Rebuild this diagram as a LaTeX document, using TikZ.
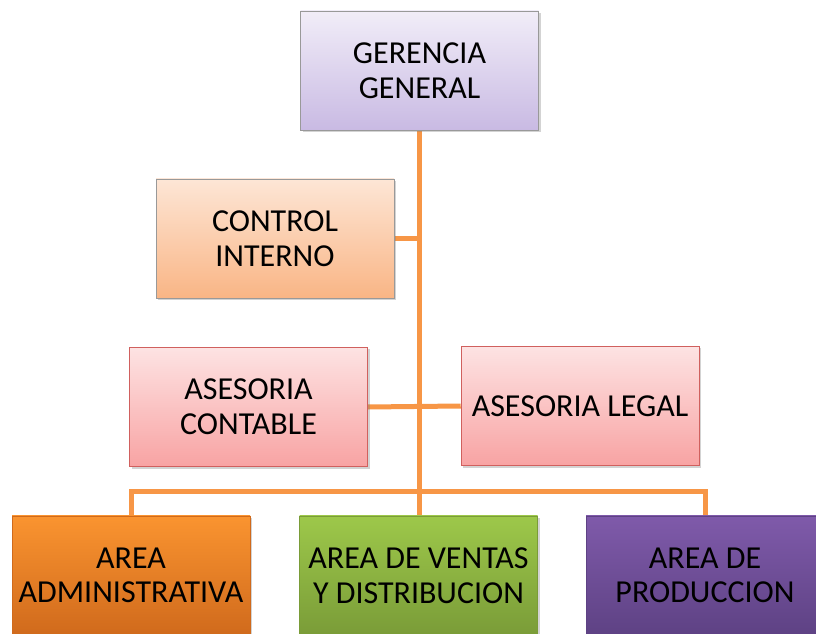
\documentclass[tikz,border=0pt]{standalone}
\usepackage{fontspec}
\setmainfont{Carlito}
\usetikzlibrary{shadows,backgrounds}
\definecolor{lineorange}{HTML}{F79646}
\definecolor{lavtop}{HTML}{F1EDF8}
\definecolor{lavbot}{HTML}{C9BAE3}
\definecolor{peachtop}{HTML}{FDE6D6}
\definecolor{peachbot}{HTML}{F9B585}
\definecolor{pinktop}{HTML}{FDE3E3}
\definecolor{pinkbot}{HTML}{F8A3A3}
\definecolor{pinkline}{HTML}{D0605E}
\definecolor{orgtop}{HTML}{FA9430}
\definecolor{orgbot}{HTML}{D06A1C}
\definecolor{grntop}{HTML}{9DC84A}
\definecolor{grnbot}{HTML}{7A9C38}
\definecolor{purtop}{HTML}{7F5AAA}
\definecolor{purbot}{HTML}{5E4284}
\begin{document}
\begin{tikzpicture}[x=0.75pt, y=-0.75pt,
    unitbox/.style={rectangle, minimum width=178.5pt, minimum height=89.5pt,
        align=center, font=\fontsize{24}{26}\selectfont, inner sep=2pt,
        drop shadow={shadow xshift=1.5pt, shadow yshift=-1.5pt, opacity=0.35}},
    topbox/.style={unitbox, draw=gray!80, top color=lavtop, bottom color=lavbot},
    ctrlbox/.style={unitbox, draw=gray!80, top color=peachtop, bottom color=peachbot},
    advbox/.style={unitbox, draw=pinkline, top color=pinktop, bottom color=pinkbot},
    areabox/.style={unitbox, draw=#1bot, top color=#1top, bottom color=#1bot},
    link/.style={draw=lineorange, line width=3.75pt}]
    \useasboundingbox (0,0) rectangle (816,634);
    % boxes
    \node [topbox] (gerencia) at (419.5, 70.5) {GERENCIA\\GENERAL};
    \node [ctrlbox] (control) at (275, 238.5) {CONTROL\\INTERNO};
    \node [advbox] (contable) at (248.5, 407) {ASESORIA\\CONTABLE};
    \node [advbox] (legal) at (580, 406) {ASESORIA LEGAL};
    \node [areabox=org] (admin) at (131, 575.5) {AREA\\ADMINISTRATIVA};
    \node [areabox=grn] (ventas) at (418.5, 575.5) {AREA DE VENTAS\\Y DISTRIBUCION};
    \node [areabox=pur] (produccion) at (705, 575.5) {AREA DE\\PRODUCCION};
    % connectors
    \coordinate (bus) at (419, 491);
    \begin{pgfonlayer}{background}
    \draw [link] (gerencia.south) -- (gerencia.south |- ventas.north);
    \draw [link] (control.east) -- (control.east -| gerencia.south);
    \draw [link] (contable.east) -- (legal.west);
    \draw [link] (admin.north) |- (bus) -| (produccion.north);
    \end{pgfonlayer}
\end{tikzpicture}
\end{document}
